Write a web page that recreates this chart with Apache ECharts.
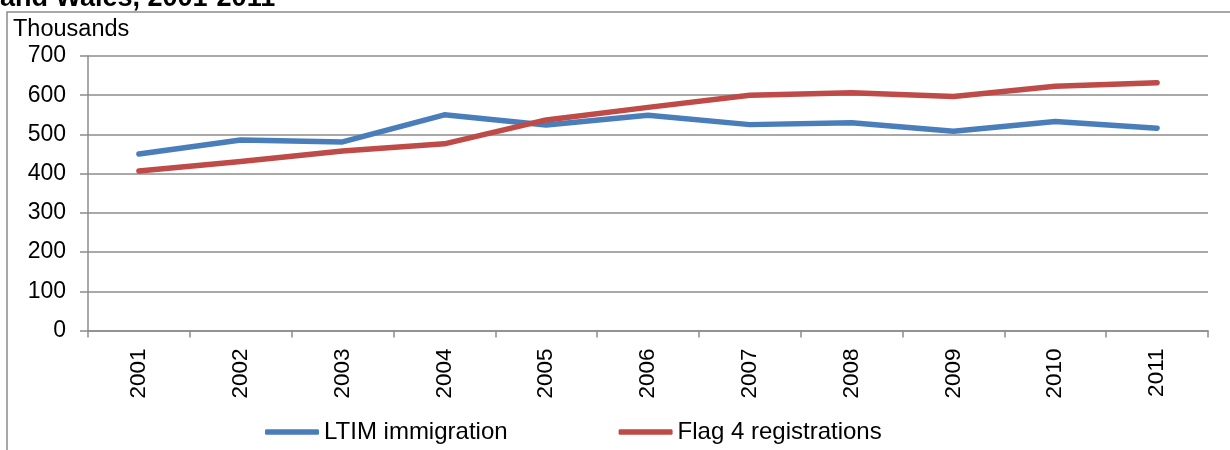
<!DOCTYPE html>
<html>
<head>
<meta charset="utf-8">
<script src="https://cdn.jsdelivr.net/npm/echarts@6/dist/echarts.min.js"></script>
<style>
  html, body { margin: 0; padding: 0; background: #fff; }
  #chart { width: 1230px; height: 450px; }
</style>
</head>
<body>
<div id="chart"></div>
<script>
// Immigration estimates vs. flag 4 registrations, thousands
const years = ['2001', '2002', '2003', '2004', '2005', '2006', '2007', '2008', '2009', '2010', '2011'];
const ltimImmigration = [450, 486, 481, 550, 524, 549, 525, 530, 508, 533, 516];
const flag4Registrations = [407, 431, 458, 476, 537, 569, 600, 606, 597, 623, 632];
const yTicks = { min: 0, max: 700, interval: 100 };

const FONT = '"Liberation Sans", Arial, sans-serif';
const GRID_GRAY = '#8c8c8c';
const BLUE = '#4a7ebb';
const RED = '#be4b48';

const chart = echarts.init(document.getElementById('chart'), null, { renderer: 'canvas' });

chart.setOption({
  animation: false,
  backgroundColor: '#ffffff',
  grid: { left: 88, right: 22, top: 56, bottom: 119.5, containLabel: false },
  graphic: [
    {
      type: 'rect',
      shape: { x: 7, y: 12, width: 1300, height: 500 },
      style: { fill: 'none', stroke: '#8c8c8c', lineWidth: 1.5 },
      silent: true
    },
    {
      type: 'text',
      left: 0,
      top: -15,
      style: { text: 'and Wales, 2001-2011', font: 'bold 27px ' + FONT, fill: '#000' },
      silent: true
    },
    {
      type: 'text',
      left: 13,
      top: 18,
      style: { text: 'Thousands', font: '23.5px ' + FONT, fill: '#000' },
      silent: true
    }
  ],
  legend: {
    left: 260,
    top: 415,
    icon: 'roundRect',
    itemWidth: 54,
    itemHeight: 5.5,
    itemGap: 111,
    textStyle: { fontFamily: FONT, fontSize: 24, color: '#000' },
    data: ['LTIM immigration', 'Flag 4 registrations']
  },
  xAxis: {
    type: 'category',
    data: years,
    boundaryGap: true,
    axisLine: { show: true, lineStyle: { color: GRID_GRAY, width: 1.5 } },
    axisTick: { show: true, alignWithLabel: false, length: 7, lineStyle: { color: GRID_GRAY, width: 1.5 } },
    axisLabel: { rotate: 90, margin: 18, fontFamily: FONT, fontSize: 22.5, color: '#000' },
    splitLine: { show: false }
  },
  yAxis: {
    type: 'value',
    min: yTicks.min,
    max: yTicks.max,
    interval: yTicks.interval,
    axisLine: { show: true, lineStyle: { color: GRID_GRAY, width: 1.5 } },
    axisTick: { show: true, length: 8, lineStyle: { color: GRID_GRAY, width: 1.5 } },
    axisLabel: { margin: 22, fontFamily: FONT, fontSize: 23, color: '#000' },
    splitLine: { show: true, lineStyle: { color: GRID_GRAY, width: 1.5 } }
  },
  series: [
    {
      name: 'LTIM immigration',
      type: 'line',
      data: ltimImmigration,
      symbol: 'none',
      color: BLUE,
      itemStyle: { color: BLUE },
      lineStyle: { color: BLUE, width: 5.5, cap: 'round', join: 'round' }
    },
    {
      name: 'Flag 4 registrations',
      type: 'line',
      data: flag4Registrations,
      symbol: 'none',
      color: RED,
      itemStyle: { color: RED },
      lineStyle: { color: RED, width: 5.5, cap: 'round', join: 'round' }
    }
  ]
});
</script>
</body>
</html>
